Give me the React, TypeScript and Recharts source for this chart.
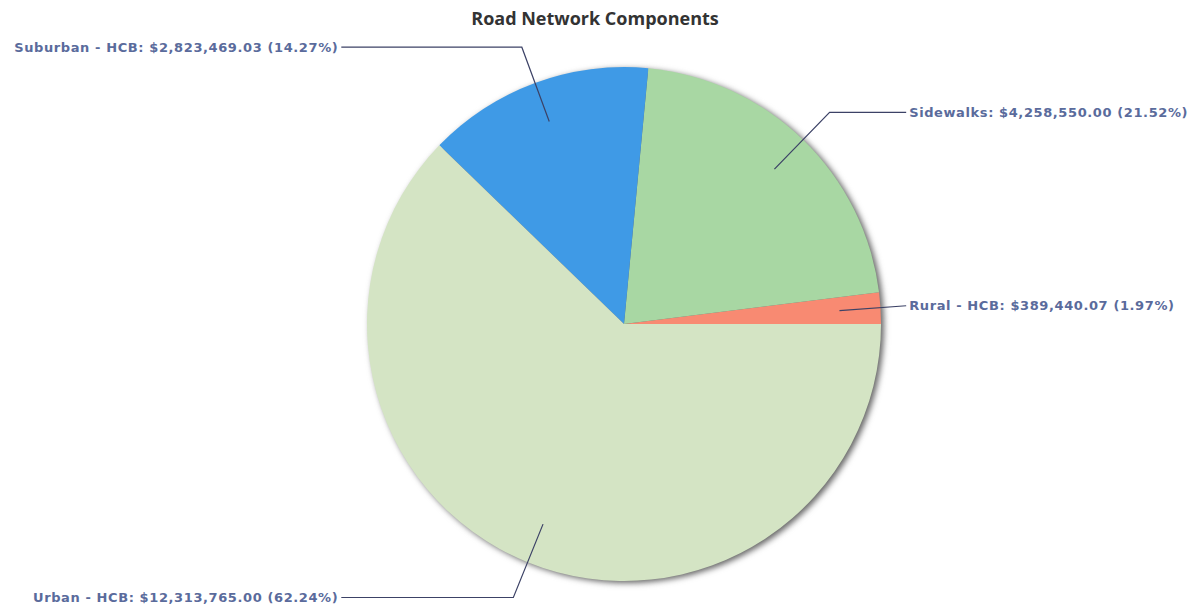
import React from "react";
import { PieChart, Pie, Cell } from "recharts";

const categories = ["Rural - HCB", "Sidewalks", "Suburban - HCB", "Urban - HCB"];
const values = [389440.07, 4258550.0, 2823469.03, 12313765.0];
const colors = ["#f88a72", "#a8d7a3", "#3f9ae6", "#d4e4c4"];
const title = "Road Network Components";

const data = categories.map((name, i) => ({ name, value: values[i] }));
const total = values.reduce((a, b) => a + b, 0);

const RAD = Math.PI / 180;
const fmt = (v: number) =>
  "$" + v.toLocaleString("en-US", { minimumFractionDigits: 2, maximumFractionDigits: 2 });

const renderLabel = (props: any) => {
  const { cx, cy, midAngle, outerRadius, index } = props;
  const cos = Math.cos(-midAngle * RAD);
  const sin = Math.sin(-midAngle * RAD);
  const r1 = outerRadius * 0.84;
  const r2 = outerRadius * 1.148;
  const x1 = cx + r1 * cos;
  const y1 = cy + r1 * sin;
  const right = cos >= 0;
  const endX = right ? cx + outerRadius * 1.098 : cx - outerRadius * 1.1;
  let x2 = cx + r2 * cos;
  const y2 = cy + r2 * sin;
  if (right && x2 > endX) x2 = endX;
  if (!right && x2 < endX) x2 = endX;
  const v = values[index];
  const text = `${categories[index]}: ${fmt(v)} (${((v / total) * 100).toFixed(2)}%)`;
  return (
    <g key={`lbl-${index}`}>
      <path
        d={`M${x1},${y1} L${x2},${y2} L${endX},${y2}`}
        stroke="#3c4266"
        strokeWidth={1.2}
        fill="none"
      />
      <text
        x={right ? endX + 3 : endX - 3}
        y={y2}
        textAnchor={right ? "start" : "end"}
        dominantBaseline="central"
        fill="#5a6b9c"
        fontFamily="'DejaVu Sans', Verdana, sans-serif"
        fontWeight="bold"
        fontSize={13}
        letterSpacing={0.6}
      >
        {text}
      </text>
    </g>
  );
};

export default function App() {
  return (
    <div style={{ position: "absolute", left: 0, top: 0, width: 1202, height: 606, background: "#fff" }}>
      <style>{`.shadow-pie { filter: blur(2px); }`}</style>
      <PieChart width={1202} height={606} margin={{ top: 0, right: 0, bottom: 0, left: 0 }}>
        <text
          x={595}
          y={18}
          textAnchor="middle"
          dominantBaseline="central"
          fontFamily="'Open Sans', sans-serif"
          fontWeight={700}
          fontSize={18}
          fill="#333"
        >
          {title}
        </text>
        <Pie
          data={[{ name: "shadow", value: 1 }]}
          dataKey="value"
          cx={627}
          cy={326}
          outerRadius={257}
          startAngle={0}
          endAngle={360}
          fill="#666"
          stroke="none"
          className="shadow-pie"
          isAnimationActive={false}
          label={false}
          labelLine={false}
        />
        <Pie
          data={data}
          dataKey="value"
          nameKey="name"
          cx={624}
          cy={324}
          outerRadius={257}
          startAngle={0}
          endAngle={360}
          stroke="none"
          isAnimationActive={false}
          label={renderLabel}
          labelLine={false}
        >
          {data.map((d, i) => (
            <Cell key={d.name} fill={colors[i]} />
          ))}
        </Pie>
      </PieChart>
    </div>
  );
}
